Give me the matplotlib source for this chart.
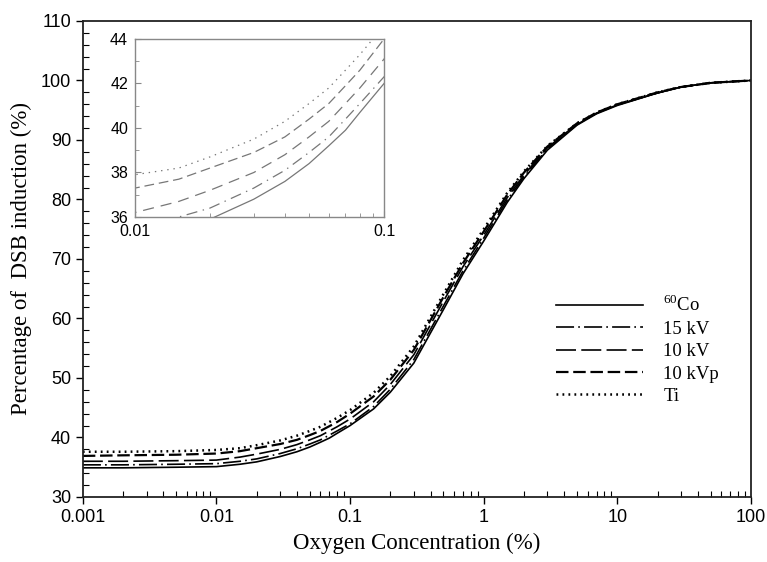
import matplotlib
matplotlib.use("Agg")
import matplotlib.pyplot as plt
from matplotlib.ticker import LogLocator, FixedLocator, MultipleLocator, NullFormatter, FuncFormatter

plt.rcParams["lines.scale_dashes"] = False
plt.rcParams["mathtext.fontset"] = "custom"
plt.rcParams["mathtext.rm"] = "Liberation Serif"
SANS = "Liberation Sans"
SERIF = "Liberation Serif"

# ---------------------------------------------------------------------------
# Data
# ---------------------------------------------------------------------------
oxygen = [0.001, 0.002, 0.005, 0.01, 0.015, 0.02, 0.03, 0.04, 0.05, 0.06,
          0.07, 0.08, 0.1, 0.15, 0.2, 0.3, 0.5, 0.7, 1, 1.5, 2, 3, 5, 7,
          10, 20, 30, 50, 100]

dsb_co60 = [34.9, 34.9, 35.0, 35.1, 35.5, 35.9, 36.8, 37.6, 38.4, 39.2,
            39.9, 40.7, 42.0, 44.8, 47.6, 52.5, 61.5, 67.5, 73.0, 79.5,
            83.5, 88.3, 92.5, 94.4, 95.8, 97.9, 98.9, 99.6, 100.0]
dsb_15kv = [35.4, 35.4, 35.5, 35.6, 36.0, 36.4, 37.3, 38.1, 38.9, 39.6,
            40.4, 41.1, 42.3, 45.2, 48.1, 53.1, 62.1, 68.0, 73.5, 79.9,
            83.8, 88.5, 92.6, 94.5, 95.9, 97.9, 98.9, 99.6, 100.0]
dsb_10kv = [36.0, 36.0, 36.1, 36.2, 36.7, 37.2, 38.0, 38.8, 39.6, 40.3,
            41.1, 41.8, 43.1, 46.0, 48.9, 53.9, 62.9, 68.7, 74.0, 80.3,
            84.1, 88.7, 92.7, 94.5, 95.9, 97.9, 98.9, 99.6, 100.0]
dsb_10kvp = [36.9, 37.0, 37.1, 37.3, 37.7, 38.2, 38.9, 39.6, 40.4, 41.1,
             41.9, 42.6, 44.0, 46.9, 49.7, 54.7, 63.6, 69.3, 74.6, 80.8,
             84.5, 88.9, 92.8, 94.6, 96.0, 98.0, 98.9, 99.6, 100.0]
dsb_ti = [37.6, 37.6, 37.7, 37.9, 38.2, 38.7, 39.5, 40.3, 41.1, 41.8,
          42.6, 43.3, 44.6, 47.5, 50.3, 55.3, 64.1, 69.8, 75.0, 81.1,
          84.7, 89.0, 92.8, 94.6, 96.0, 98.0, 98.9, 99.6, 100.0]

labels = [r"$^{60}$Co", "15 kV", "10 kV", "10 kVp", "Ti"]
series = [dsb_co60, dsb_15kv, dsb_10kv, dsb_10kvp, dsb_ti]

# line styles: (linewidth, dashes in points)
main_styles = [
    (1.2, None),
    (1.2, (13, 3, 1.2, 3)),
    (1.2, (14.4, 3.8)),
    (1.6, (9, 3.4)),
    (1.8, (1.3, 3.0)),
]
inset_styles = [
    (0.9, None),
    (0.9, (8, 4, 1, 4)),
    (0.9, (8, 5)),
    (0.9, (7, 3.5)),
    (0.9, (1, 3.5)),
]

# ---------------------------------------------------------------------------
# Figure
# ---------------------------------------------------------------------------
fig = plt.figure(figsize=(7.67, 5.62), dpi=100)
ax = fig.add_axes([0.108, 0.1157, 0.871, 0.847])

for y, lab, (lw, ds) in zip(series, labels, main_styles):
    line, = ax.plot(oxygen, y, color="black", lw=lw, label=lab)
    if ds is not None:
        line.set_dashes(ds)

ax.set_xscale("log")
ax.set_xlim(0.001, 100)
ax.set_ylim(30, 110)
ax.xaxis.set_major_locator(LogLocator(base=10, numticks=10))
ax.xaxis.set_minor_locator(LogLocator(base=10, subs=range(2, 10), numticks=20))
ax.xaxis.set_minor_formatter(NullFormatter())
ax.xaxis.set_major_formatter(FuncFormatter(lambda v, p: f"{v:g}"))
ax.yaxis.set_major_locator(MultipleLocator(10))
ax.yaxis.set_minor_locator(MultipleLocator(2))

ax.tick_params(which="major", direction="out", length=5, width=1.0,
               top=False, right=False, labelsize=13)
ax.tick_params(which="minor", direction="in", length=4, width=0.8,
               top=False, right=False)
for lab in ax.get_xticklabels() + ax.get_yticklabels():
    lab.set_fontfamily(SANS)
for sp in ax.spines.values():
    sp.set_linewidth(1.3)
    sp.set_color("#222222")

ax.set_xlabel("Oxygen Concentration (%)", fontsize=16.5, family=SERIF, labelpad=5)
ax.set_ylabel("Percentage of  DSB induction (%)", fontsize=16.5, family=SERIF, labelpad=6)

leg = ax.legend(loc="upper left", bbox_to_anchor=(0.709, 0.425), frameon=False,
                handlelength=4.6, prop={"family": SERIF, "size": 13.5},
                labelspacing=0.28, handletextpad=1.1, borderaxespad=0,
                borderpad=0)

# ---------------------------------------------------------------------------
# Inset zoom 0.01 - 0.1
# ---------------------------------------------------------------------------
ins = fig.add_axes([0.176, 0.6139, 0.3247, 0.3167])
for y, (lw, ds) in zip(series, inset_styles):
    line, = ins.plot(oxygen, y, color="#777777", lw=lw)
    if ds is not None:
        line.set_dashes(ds)
ins.set_xscale("log")
ins.set_xlim(0.01, 0.1)
ins.set_ylim(36, 44)
ins.xaxis.set_major_locator(FixedLocator([0.01, 0.1]))
ins.xaxis.set_major_formatter(FuncFormatter(lambda v, p: f"{v:g}"))
ins.xaxis.set_minor_locator(LogLocator(base=10, subs=range(2, 10), numticks=20))
ins.xaxis.set_minor_formatter(NullFormatter())
ins.yaxis.set_major_locator(MultipleLocator(2))
ins.yaxis.set_minor_locator(MultipleLocator(1))
ins.tick_params(which="both", direction="in", color="#888888",
                top=False, right=False, labelsize=11.5, pad=5)
ins.tick_params(which="major", length=4)
ins.tick_params(which="minor", length=3)
for lab in ins.get_xticklabels() + ins.get_yticklabels():
    lab.set_fontfamily(SANS)
for sp in ins.spines.values():
    sp.set_color("#888888")
    sp.set_linewidth(1.0)

fig.savefig("out.png", dpi=100, facecolor="white")
